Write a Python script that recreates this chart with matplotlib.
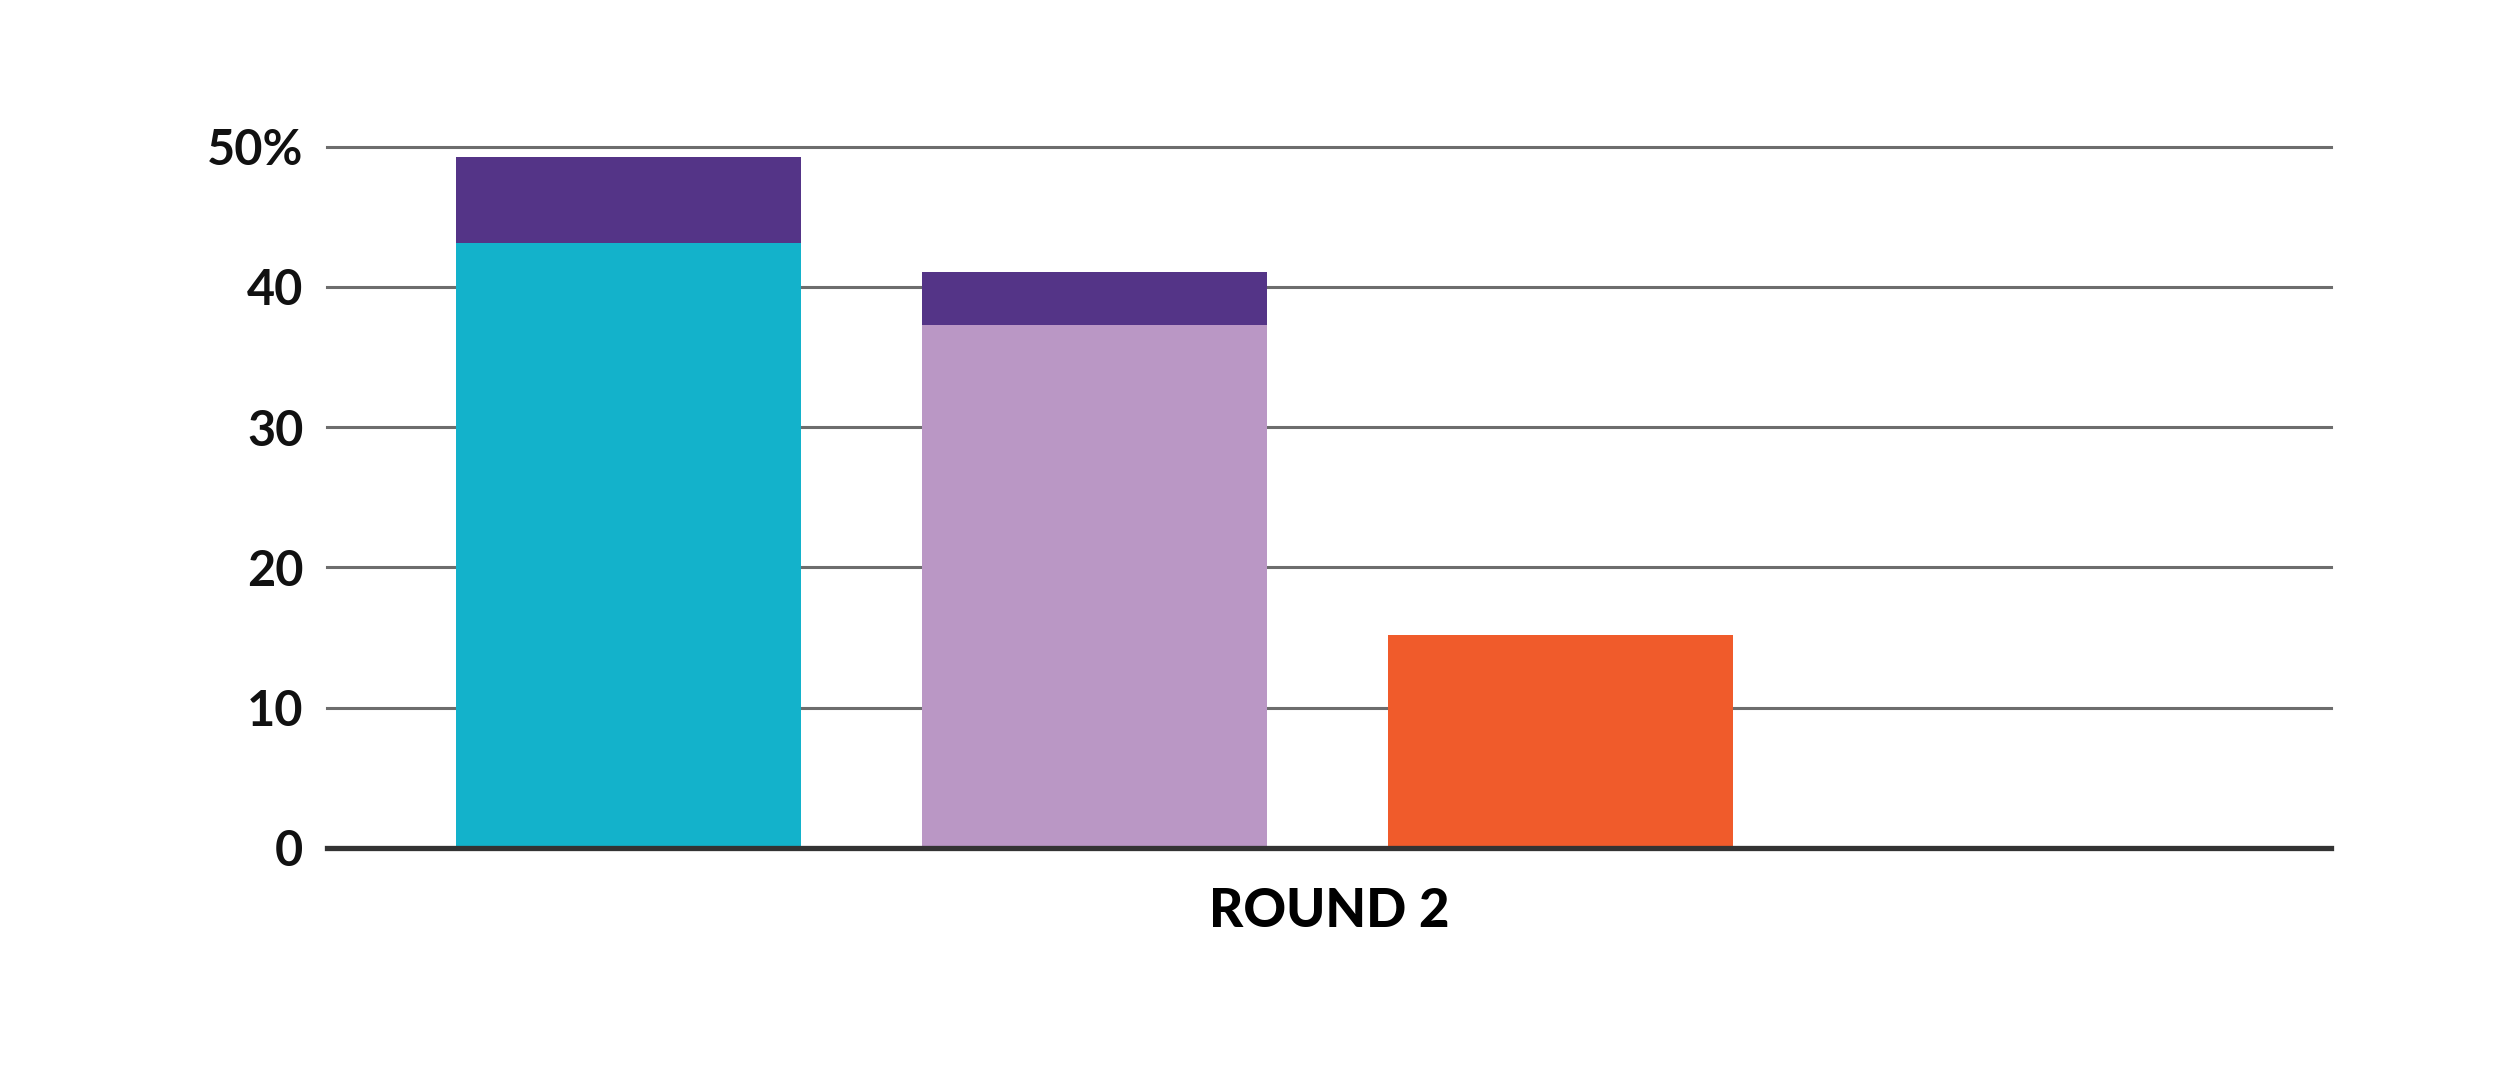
import matplotlib
matplotlib.use("Agg")
import matplotlib.pyplot as plt

categories = ["A", "B", "C"]
base_values = [43.1, 37.3, 15.2]
top_values = [6.2, 3.8, 0.0]
base_colors = ["#13B2CB", "#BA97C5", "#F05B2B"]
top_color = "#543487"
yticks = [0, 10, 20, 30, 40, 50]
ytick_labels = ["0", "10", "20", "30", "40", "50%"]
xlabel = "ROUND 2"

plt.rcParams['font.family'] = ['Lato', 'DejaVu Sans']

fig = plt.figure(figsize=(25, 10.71), dpi=100)
ax = fig.add_axes([327/2500, 1 - 848/1071, (2331-327)/2500, (848-146.7)/1071])

x = list(range(len(categories)))
width = 0.74
ax.bar(x, base_values, width=width, color=base_colors, zorder=3, linewidth=0)
ax.bar(x, top_values, width=width, bottom=base_values, color=top_color, zorder=3, linewidth=0)

ax.set_xlim(-0.647, 3.652)
ax.set_ylim(0, 50)
ax.set_yticks(yticks)
ax.set_yticklabels(ytick_labels, fontsize=35, fontweight='bold', color='#111111')
ax.tick_params(axis='y', length=0, pad=17)
ax.set_xticks([])
for y in yticks[1:]:
    ax.axhline(y, color='#6d6d6d', linewidth=2.2, zorder=1, clip_on=False)
ax.axhline(0, color='#333333', linewidth=3.8, zorder=4, clip_on=False)
for s in ax.spines.values():
    s.set_visible(False)
ax.set_xlabel(xlabel, fontsize=38, fontweight='black', color='#000000', labelpad=28)

fig.savefig("out.png", dpi=100, facecolor='white')
